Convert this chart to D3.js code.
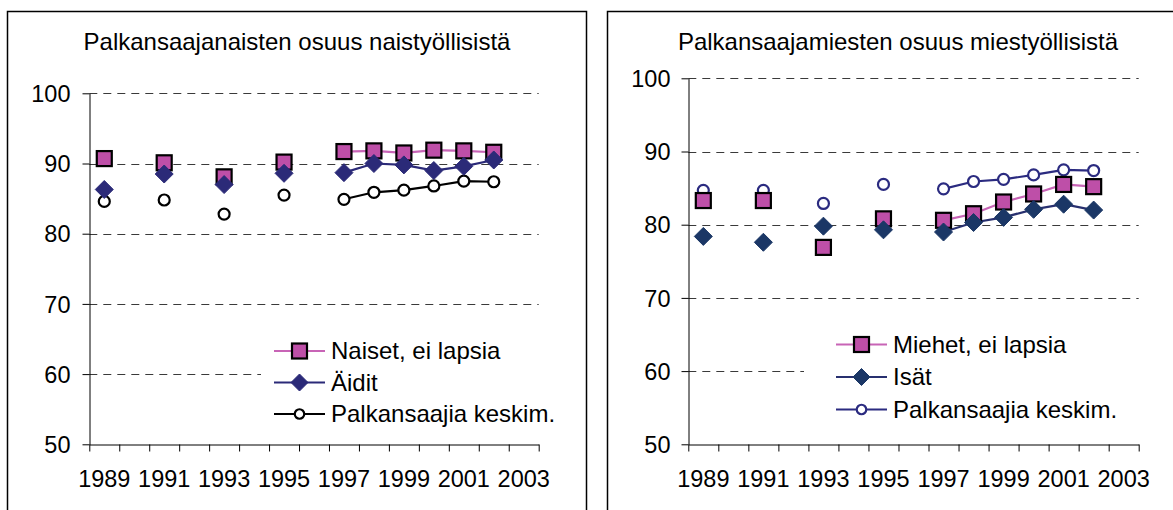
<!DOCTYPE html>
<html>
<head>
<meta charset="utf-8">
<script src="https://cdn.jsdelivr.net/npm/d3@7"></script>
<style>
  body { margin: 0; background: #fff; }
  svg { display: block; }
  text { font-family: Arial, "Liberation Sans", sans-serif; fill: #000; }
</style>
</head>
<body>
<svg width="1173" height="510"></svg>
<script>
// vuodet (kategoriat) ja akselin merkinnät
const years = [1989, 1990, 1991, 1992, 1993, 1994, 1995, 1996, 1997, 1998, 1999, 2000, 2001, 2002, 2003];
const yearLabels = [1989, 1991, 1993, 1995, 1997, 1999, 2001, 2003];
const yTicks = [50, 60, 70, 80, 90, 100];

// naiset
const naisetEiLapsia = [90.7, null, 90.1, null, 88.1, null, 90.2, null, 91.7, 91.8, 91.5, 91.9, 91.8, 91.6, null];
const aidit          = [86.3, null, 88.5, null, 87.0, null, 88.6, null, 88.7, 90.0, 89.8, 89.0, 89.6, 90.5, null];
const keskimNaiset   = [84.6, null, 84.8, null, 82.8, null, 85.5, null, 84.9, 85.9, 86.2, 86.8, 87.5, 87.4, null];

// miehet
const miehetEiLapsia = [83.3, null, 83.3, null, 76.9, null, 80.8, null, 80.6, 81.5, 83.1, 84.2, 85.5, 85.2, null];
const isat           = [78.4, null, 77.6, null, 79.8, null, 79.3, null, 79.0, 80.3, 81.0, 82.1, 82.8, 82.0, null];
const keskimMiehet   = [84.7, null, 84.7, null, 82.9, null, 85.5, null, 84.9, 85.9, 86.2, 86.8, 87.5, 87.4, null];

const svg = d3.select('svg');

// yksi kuvio = yksi paneeli
const panels = [
  {
    title: 'Palkansaajanaisten osuus naistyöllisistä',
    frame: {x: 7.5, y: 11.5, w: 579},
    titleX: 297,
    x0: 89.3, x1: 538.7, yTop: 93.3, yBottom: 444.3,
    labelPad: 12,
    legend: {bgX: 261, lineX: 274, rows: [351, 382.5, 414]},
    series: [
      {name: 'Naiset, ei lapsia', values: naisetEiLapsia, marker: 'square', fill: '#BE4FA8', stroke: '#000', line: '#C864B6'},
      {name: 'Äidit', values: aidit, marker: 'diamond', fill: '#2B2A78', stroke: '#2B2A78', line: '#2B2A78'},
      {name: 'Palkansaajia keskim.', values: keskimNaiset, marker: 'circle', fill: '#fff', stroke: '#000', line: '#000'}
    ]
  },
  {
    title: 'Palkansaajamiesten osuus miestyöllisistä',
    frame: {x: 607.5, y: 11.5, w: 600},
    titleX: 898,
    x0: 688.3, x1: 1138.7, yTop: 78.3, yBottom: 444.3,
    labelPad: 11,
    legend: {bgX: 804, lineX: 836, rows: [344.5, 377, 409.5]},
    series: [
      {name: 'Miehet, ei lapsia', values: miehetEiLapsia, marker: 'square', fill: '#BE4FA8', stroke: '#000', line: '#C864B6'},
      {name: 'Isät', values: isat, marker: 'diamond', fill: '#1B3766', stroke: '#1B3766', line: '#28306F'},
      {name: 'Palkansaajia keskim.', values: keskimMiehet, marker: 'circle', fill: '#fff', stroke: '#2B2B80', line: '#2B2B80'}
    ]
  }
];

// merkkien piirto
function drawMarker(sel, type, s, size) {
  if (type === 'square') {
    sel.append('rect')
      .attr('x', -size / 2).attr('y', -size / 2)
      .attr('width', size).attr('height', size)
      .attr('fill', s.fill).attr('stroke', s.stroke).attr('stroke-width', 2.2);
  } else if (type === 'diamond') {
    const h = size / 2;
    sel.append('path')
      .attr('d', `M0,${-h}L${h},0L0,${h}L${-h},0Z`)
      .attr('fill', s.fill).attr('stroke', s.stroke).attr('stroke-width', 1);
  } else {
    sel.append('circle')
      .attr('r', size / 2)
      .attr('fill', s.fill).attr('stroke', s.stroke).attr('stroke-width', 2.2);
  }
}

const markerSize = {square: 15, diamond: 18, circle: 11};
const legendSize = {square: 15, diamond: 17, circle: 9.5};

panels.forEach(p => {
  const g = svg.append('g');

  // kehys
  g.append('rect')
    .attr('x', p.frame.x).attr('y', p.frame.y)
    .attr('width', p.frame.w).attr('height', 530)
    .attr('fill', 'none').attr('stroke', '#000').attr('stroke-width', 1.5);

  g.append('text')
    .attr('x', p.titleX).attr('y', 50)
    .attr('text-anchor', 'middle')
    .style('font-size', '24px')
    .text(p.title);

  const x = d3.scaleBand().domain(years).range([p.x0, p.x1]).padding(0);
  const xEdge = d3.scaleLinear().domain([years[0] - 0.5, years[years.length - 1] + 0.5]).range([p.x0, p.x1]);
  const y = d3.scaleLinear().domain([50, 100]).range([p.yBottom, p.yTop]);
  const cx = yr => x(yr) + x.bandwidth() / 2;

  // apuviivat
  g.append('g').selectAll('line')
    .data(yTicks.filter(t => t > 50))
    .enter().append('line')
      .attr('x1', p.x0).attr('x2', p.x1)
      .attr('y1', d => Math.round(y(d)) + 0.5).attr('y2', d => Math.round(y(d)) + 0.5)
      .attr('stroke', '#3a3a3a').attr('stroke-dasharray', '8,6');

  // y-akseli
  const yAxis = g.append('g')
    .attr('transform', `translate(${Math.round(p.x0) + 0.5},0)`)
    .call(d3.axisLeft(y).tickValues(yTicks).tickSize(7).tickSizeOuter(0).tickPadding(p.labelPad));
  yAxis.selectAll('text').style('font-size', '23.5px').attr('dy', '0.35em');
  yAxis.selectAll('path, line').attr('stroke', '#000');

  // x-akseli: väliviivat kategorioiden rajoilla
  const edges = years.map(yr => yr - 0.5).concat([years[years.length - 1] + 0.5]);
  const xAxis = g.append('g')
    .attr('transform', `translate(0,${Math.round(p.yBottom) + 0.5})`)
    .call(d3.axisBottom(xEdge).tickValues(edges).tickSize(7).tickSizeOuter(0).tickFormat(''));
  xAxis.selectAll('path, line').attr('stroke', '#000');

  // vuosiluvut kategorioiden keskelle
  const xLabels = g.append('g')
    .attr('transform', `translate(0,${p.yBottom})`)
    .call(d3.axisBottom(x).tickValues(yearLabels).tickSize(0).tickPadding(26));
  xLabels.select('.domain').remove();
  xLabels.selectAll('text').style('font-size', '23.5px');

  // sarjat: ympyrät alimmaisina, sitten neliöt ja vinoneliöt
  const order = [2, 0, 1];
  order.forEach(i => {
    const s = p.series[i];
    const pts = years.map((yr, j) => ({year: yr, value: s.values[j]}));
    const line = d3.line()
      .defined(d => d.value != null)
      .x(d => cx(d.year))
      .y(d => y(d.value));
    g.append('path')
      .datum(pts)
      .attr('d', line)
      .attr('fill', 'none')
      .attr('stroke', s.line)
      .attr('stroke-width', 2.2);
  });
  order.forEach(i => {
    const s = p.series[i];
    const pts = years.map((yr, j) => ({year: yr, value: s.values[j]})).filter(d => d.value != null);
    g.append('g').selectAll('g')
      .data(pts)
      .enter().append('g')
        .attr('transform', d => `translate(${cx(d.year)},${y(d.value)})`)
        .each(function() { drawMarker(d3.select(this), s.marker, s, markerSize[s.marker]); });
  });

  // selite valkoisella pohjalla
  g.append('rect')
    .attr('x', p.legend.bgX).attr('y', p.legend.rows[0] - 20)
    .attr('width', p.x1 - p.legend.bgX + 25).attr('height', p.legend.rows[2] - p.legend.rows[0] + 40)
    .attr('fill', '#fff');

  p.series.forEach((s, i) => {
    const ly = p.legend.rows[i];
    const lg = g.append('g').attr('transform', `translate(${p.legend.lineX},${ly})`);
    lg.append('line')
      .attr('x1', 0).attr('x2', 51)
      .attr('stroke', s.line).attr('stroke-width', 2.2);
    const m = lg.append('g').attr('transform', 'translate(25.5,0)');
    drawMarker(m, s.marker, s, legendSize[s.marker]);
    lg.append('text')
      .attr('x', 57).attr('dy', '0.35em')
      .style('font-size', '24px')
      .text(s.name);
  });
});
</script>
</body>
</html>
